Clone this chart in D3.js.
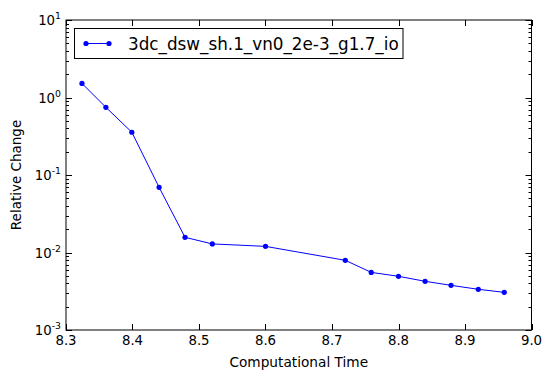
<!DOCTYPE html>
<html><head><meta charset="utf-8">
<script src="https://cdn.jsdelivr.net/npm/d3@7"></script>
<style>
body{margin:0;background:#fff;}
text{font-family:"DejaVu Sans",sans-serif;}
</style></head>
<body><svg id="c" width="551" height="380"></svg>
<script>
const seriesName = "3dc_dsw_sh.1_vn0_2e-3_g1.7_io";
const times = [8.324, 8.360, 8.399, 8.440, 8.479, 8.520, 8.600, 8.720, 8.759, 8.800, 8.840, 8.879, 8.920, 8.959];
const changes = [1.52, 0.747, 0.356, 0.0693, 0.0157, 0.0129, 0.0120, 0.00793, 0.00554, 0.00493, 0.00425, 0.00377, 0.00335, 0.00306];
const xTicks = [8.3, 8.4, 8.5, 8.6, 8.7, 8.8, 8.9, 9.0];
const yTickExps = [-3, -2, -1, 0, 1];

const svg = d3.select("#c");
const L = 66, R = 531.5, T = 20, B = 330;
const x = d3.scaleLinear().domain([8.3, 9.0]).range([L, R]);
const y = d3.scaleLog().domain([1e-3, 1e1]).range([B, T]);

const g = svg.append("g");
const minor = [];
for (let e = -3; e < 1; e++) for (let k = 2; k <= 9; k++) minor.push(k * Math.pow(10, e));

g.append("path").datum(times.map((t, i) => [t, changes[i]]))
  .attr("fill", "none").attr("stroke", "#0000ff").attr("stroke-width", 1)
  .attr("d", d3.line().x(d => x(d[0])).y(d => y(d[1])));
g.selectAll("circle.m").data(times).enter().append("circle")
  .attr("cx", (d) => x(d)).attr("cy", (d, i) => y(changes[i])).attr("r", 2.6).attr("fill", "#0000ff");

const tk = svg.append("g").attr("stroke", "#000").attr("stroke-width", 1);
xTicks.forEach(v => {
  const px = Math.round(x(v)) + 0.5;
  tk.append("line").attr("x1", px).attr("x2", px).attr("y1", B).attr("y2", B - 6);
  tk.append("line").attr("x1", px).attr("x2", px).attr("y1", T).attr("y2", T + 6);
});
yTickExps.forEach(e => {
  const py = Math.round(y(Math.pow(10, e))) + 0.5;
  tk.append("line").attr("x1", L).attr("x2", L + 6).attr("y1", py).attr("y2", py);
  tk.append("line").attr("x1", R).attr("x2", R - 6).attr("y1", py).attr("y2", py);
});
minor.forEach(v => {
  const py = Math.round(y(v)) + 0.5;
  tk.append("line").attr("x1", L).attr("x2", L + 3).attr("y1", py).attr("y2", py);
  tk.append("line").attr("x1", R).attr("x2", R - 3).attr("y1", py).attr("y2", py);
});

svg.append("rect").attr("x", L).attr("y", T).attr("width", R - L).attr("height", B - T)
  .attr("fill", "none").attr("stroke", "#000").attr("stroke-width", 1);

xTicks.forEach(v => {
  svg.append("text").attr("x", x(v)).attr("y", B + 15).attr("text-anchor", "middle")
    .attr("font-size", 13.3).text(v.toFixed(1));
});
yTickExps.forEach(e => {
  const t = svg.append("text").attr("x", L - 5).attr("y", y(Math.pow(10, e)) + 5)
    .attr("text-anchor", "end").attr("font-size", 13.3);
  t.append("tspan").text("10");
  t.append("tspan").attr("font-size", 9.3).attr("dy", -6).text(e);
});

svg.append("text").attr("x", (L + R) / 2).attr("y", 367).attr("text-anchor", "middle")
  .attr("font-size", 13.7).text("Computational Time");
svg.append("text").attr("transform", `translate(21,${(T + B) / 2}) rotate(-90)`)
  .attr("text-anchor", "middle").attr("font-size", 13.5).text("Relative Change");

svg.append("rect").attr("x", 74.5).attr("y", 28.5).attr("width", 328.5).attr("height", 30)
  .attr("fill", "#fff").attr("stroke", "#000").attr("stroke-width", 1);
svg.append("line").attr("x1", 86).attr("x2", 109).attr("y1", 43.5).attr("y2", 43.5)
  .attr("stroke", "#0000ff").attr("stroke-width", 1);
[86, 109].forEach(px => svg.append("circle").attr("cx", px).attr("cy", 43.5).attr("r", 2.6).attr("fill", "#0000ff"));
svg.append("text").attr("x", 128).attr("y", 50).attr("font-size", 16.8).text(seriesName);
</script></body></html>
